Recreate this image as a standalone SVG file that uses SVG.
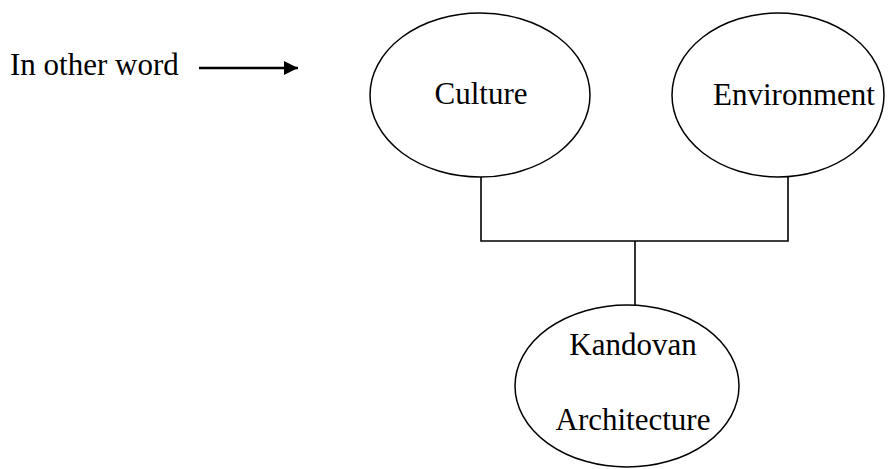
<svg xmlns="http://www.w3.org/2000/svg" width="891" height="469" viewBox="0 0 891 469">
  <style>
    .node { fill: #ffffff; stroke: #000000; stroke-width: 1.5; }
    .label { font-family: "Liberation Serif", "Times New Roman", serif; font-size: 31px; fill: #000000; }
    .mid { text-anchor: middle; }
    .wire { fill: none; stroke: #000000; stroke-width: 1.6; }
    .pointer { fill: none; stroke: #000000; stroke-width: 2.4; }
  </style>
  <defs>
    <marker id="head" viewBox="0 0 10 10" refX="10" refY="5" markerWidth="6" markerHeight="6" orient="auto" markerUnits="strokeWidth">
      <path d="M0,0 L10,5 L0,10 z" fill="#000000"/>
    </marker>
  </defs>
  <rect width="891" height="469" fill="#ffffff"/>

  <!-- caption with pointer -->
  <g id="caption">
    <text class="label" x="10" y="75">In other word</text>
    <line class="pointer" x1="199" y1="68" x2="298" y2="68" marker-end="url(#head)"/>
  </g>

  <!-- connectors -->
  <g id="connectors">
    <polyline class="wire" points="481,175 481,241 788,241 788,177"/>
    <line class="wire" x1="635" y1="241" x2="635" y2="305"/>
  </g>

  <g id="culture">
    <ellipse class="node" cx="480" cy="95" rx="110" ry="82"/>
    <text class="label mid" x="481" y="104">Culture</text>
  </g>

  <g id="environment">
    <ellipse class="node" cx="778" cy="95" rx="106" ry="82"/>
    <text class="label mid" x="794" y="105">Environment</text>
  </g>

  <g id="kandovan">
    <ellipse class="node" cx="627" cy="386" rx="112" ry="81"/>
    <text class="label mid" x="633" y="355">Kandovan</text>
    <text class="label mid" x="633" y="430">Architecture</text>
  </g>
</svg>
